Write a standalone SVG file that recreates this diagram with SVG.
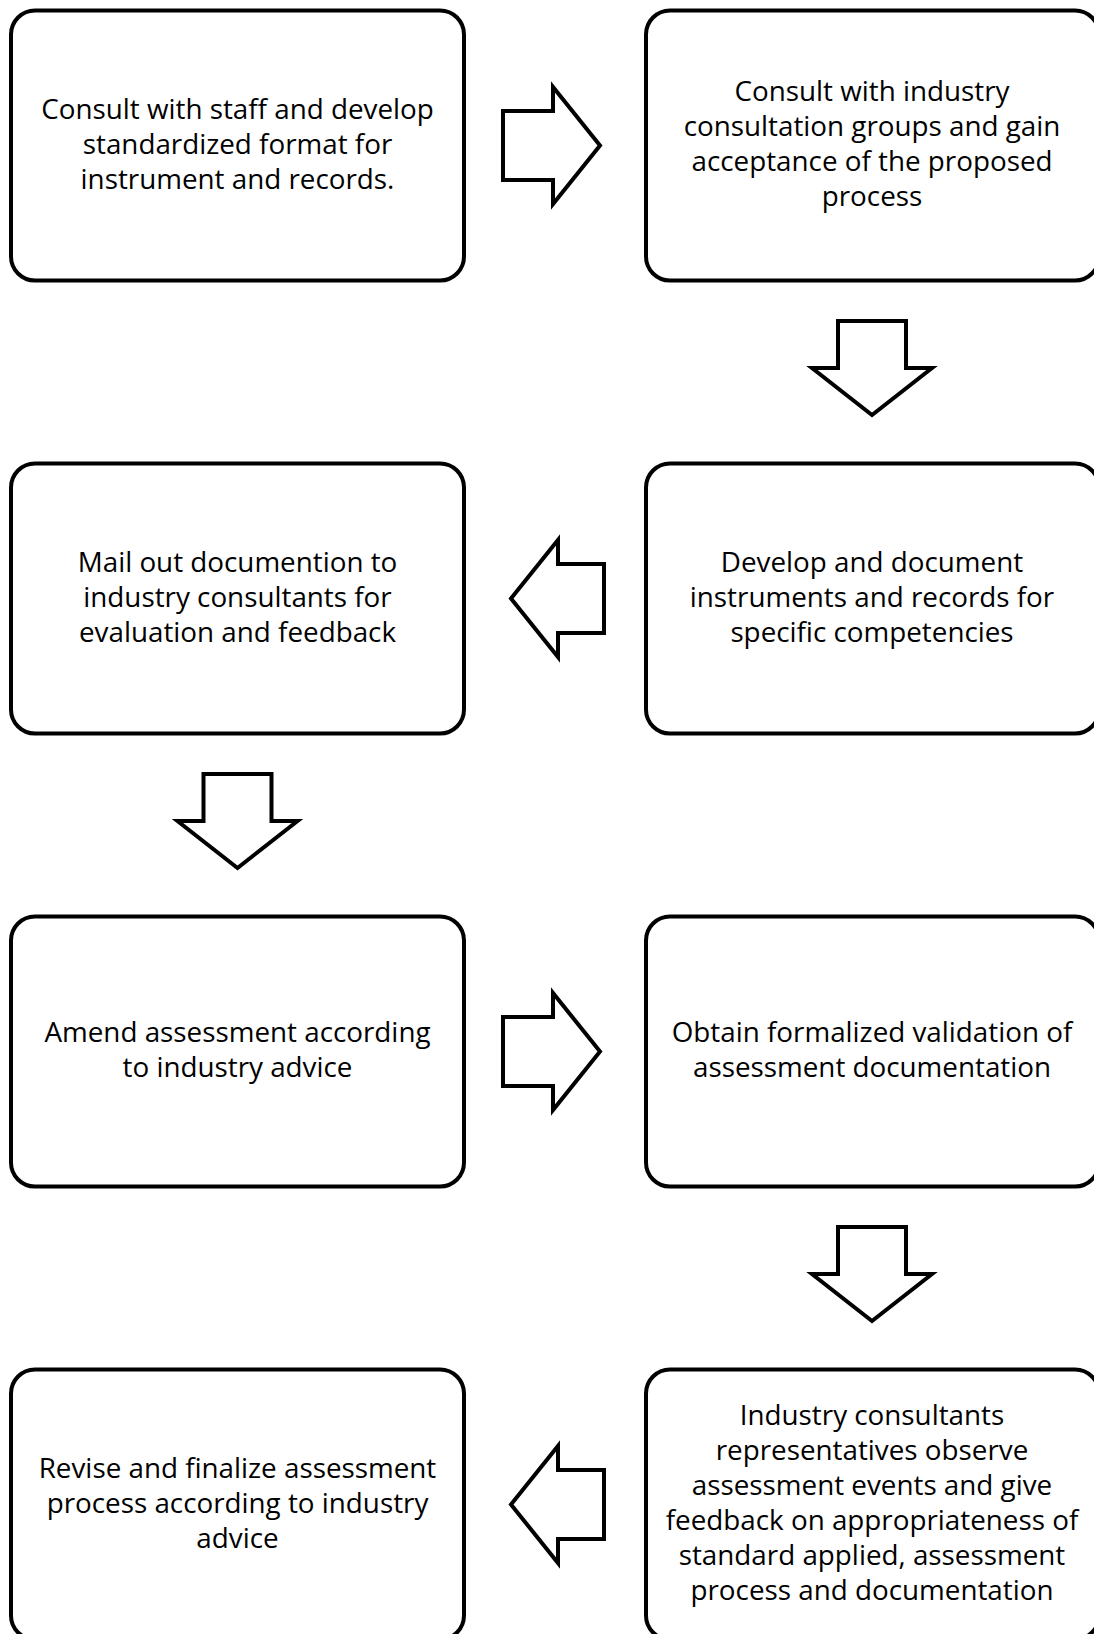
<svg xmlns="http://www.w3.org/2000/svg" width="1094" height="1634" viewBox="0 0 1094 1634">
<style>
.box{fill:#fff;stroke:#000;stroke-width:4}
.arr{fill:#fff;stroke:#000;stroke-width:4;stroke-linejoin:miter}
text{font-family:"Open Sans","Noto Sans",sans-serif;font-size:27.8px;fill:#000;text-anchor:middle}
</style>
<rect width="1094" height="1634" fill="#fff"/>
<g id="n1"><rect class="box" x="11" y="10.5" width="453" height="270" rx="24"/>
<text x="237.5" y="118.5">Consult with staff and develop</text>
<text x="237.5" y="153.5">standardized format for</text>
<text x="237.5" y="188.5">instrument and records.</text></g>
<g id="n2"><rect class="box" x="646" y="10.5" width="453" height="270" rx="24"/>
<text x="872" y="101">Consult with industry</text>
<text x="872" y="136">consultation groups and gain</text>
<text x="872" y="171">acceptance of the proposed</text>
<text x="872" y="206">process</text></g>
<g id="n3"><rect class="box" x="646" y="463.5" width="453" height="270" rx="24"/>
<text x="872" y="571.5">Develop and document</text>
<text x="872" y="606.5">instruments and records for</text>
<text x="872" y="641.5">specific competencies</text></g>
<g id="n4"><rect class="box" x="11" y="463.5" width="453" height="270" rx="24"/>
<text x="237.5" y="571.5">Mail out documention to</text>
<text x="237.5" y="606.5">industry consultants for</text>
<text x="237.5" y="641.5">evaluation and feedback</text></g>
<g id="n5"><rect class="box" x="11" y="916.5" width="453" height="270" rx="24"/>
<text x="237.5" y="1042">Amend assessment according</text>
<text x="237.5" y="1077">to industry advice</text></g>
<g id="n6"><rect class="box" x="646" y="916.5" width="453" height="270" rx="24"/>
<text x="872" y="1042">Obtain formalized validation of</text>
<text x="872" y="1077">assessment documentation</text></g>
<g id="n7"><rect class="box" x="646" y="1369.5" width="453" height="270" rx="24"/>
<text x="872" y="1425">Industry consultants</text>
<text x="872" y="1460">representatives observe</text>
<text x="872" y="1495">assessment events and give</text>
<text x="872" y="1530">feedback on appropriateness of</text>
<text x="872" y="1565">standard applied, assessment</text>
<text x="872" y="1600">process and documentation</text></g>
<g id="n8"><rect class="box" x="11" y="1369.5" width="453" height="270" rx="24"/>
<text x="237.5" y="1477.5">Revise and finalize assessment</text>
<text x="237.5" y="1512.5">process according to industry</text>
<text x="237.5" y="1547.5">advice</text></g>
<g id="connectors">
<path class="arr" d="M503,111 H553 V87 L600,145.5 L553,204 V180 H503 Z"/>
<path class="arr" d="M838,321 V368 H812 L872,415 L932,368 H906 V321 Z"/>
<path class="arr" d="M604,564 H558 V540 L511,598.5 L558,657 V633 H604 Z"/>
<path class="arr" d="M203.5,774 V821 H177.5 L237.5,868 L297.5,821 H271.5 V774 Z"/>
<path class="arr" d="M503,1017 H553 V993 L600,1051.5 L553,1110 V1086 H503 Z"/>
<path class="arr" d="M838,1227 V1274 H812 L872,1321 L932,1274 H906 V1227 Z"/>
<path class="arr" d="M604,1470 H558 V1446 L511,1504.5 L558,1563 V1539 H604 Z"/>
</g>
</svg>
